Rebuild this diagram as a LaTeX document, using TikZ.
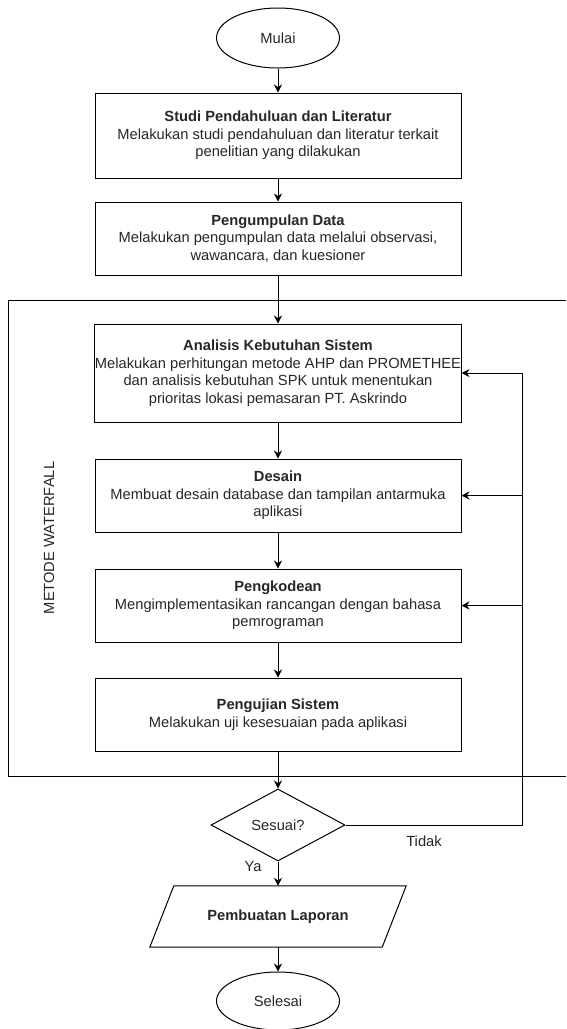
\documentclass[tikz,border=0pt]{standalone}
\usepackage{fontspec}
\setmainfont{Liberation Sans}
\usetikzlibrary{calc,shapes.geometric,arrows.meta}
\tikzset{
	teks/.style={text=black!85, font=\fontsize{14.7}{17.6}\selectfont},
	kotak/.style={teks, draw, line width=1pt, minimum width=366pt, minimum height=73pt, inner sep=0pt, align=center},
	oval/.style={teks, draw, ellipse, line width=1pt, minimum width=123pt, minimum height=60pt, inner sep=0pt},
	panah/.style={-{Stealth[length=8pt,width=8pt]}, line width=1pt},
}

\begin{document}
\begin{tikzpicture}[x=1pt, y=-1pt]
			%%%%% START %%%%%
			\useasboundingbox (0, 0) rectangle (566, 1029);
			
			\draw[line width=1pt] (566, 300) -- (8, 300) -- (8, 776) -- (566, 776);
			\node[teks, rotate=90] (metode) at (49, 538) {METODE WATERFALL};
			
			\node[oval] (mulai) at (278, 38) {Mulai};
			\node[kotak, minimum height=85pt] (studi) at (278, 135.5) {\textbf{Studi Pendahuluan dan Literatur}\\Melakukan studi pendahuluan dan literatur terkait\\penelitian yang dilakukan};
			\node[kotak] (data) at (278, 238.5) {\textbf{Pengumpulan Data}\\Melakukan pengumpulan data melalui observasi,\\wawancara, dan kuesioner};
			
			\node[kotak, minimum height=98pt] (analisis) at (278, 373) {\textbf{Analisis Kebutuhan Sistem}\\Melakukan perhitungan metode AHP dan PROMETHEE\\dan analisis kebutuhan SPK untuk menentukan\\prioritas lokasi pemasaran PT. Askrindo};
			\node[kotak] (desain) at (278, 495.5) {\textbf{Desain}\\Membuat desain database dan tampilan antarmuka\\aplikasi};
			\node[kotak] (kode) at (278, 605.5) {\textbf{Pengkodean}\\Mengimplementasikan rancangan dengan bahasa\\pemrograman};
			\node[kotak] (uji) at (278, 714.5) {\textbf{Pengujian Sistem}\\Melakukan uji kesesuaian pada aplikasi};
			
			\node[teks, draw, diamond, line width=1pt, aspect=1.86, minimum width=134pt, minimum height=72pt, inner sep=0pt] (cek) at (278, 825) {Sesuai?};
			
			\node[teks, minimum width=232pt, minimum height=61pt, inner sep=0pt] (laporan) at (278, 916.5) {\textbf{Pembuatan Laporan}};
			\draw[line width=1pt] ($(laporan.north west)+(12, 0)$) -- ($(laporan.north east)+(12, 0)$) -- ($(laporan.south east)+(-12, 0)$) -- ($(laporan.south west)+(-12, 0)$) -- cycle;
			
			\node[oval, minimum height=58pt] (selesai) at (278, 1001) {Selesai};
			
			\draw[panah] (mulai) -- (studi);
			\draw[panah] (studi) -- (data);
			\draw[panah] (data) -- (analisis);
			\draw[panah] (analisis) -- (desain);
			\draw[panah] (desain) -- (kode);
			\draw[panah] (kode) -- (uji);
			\draw[panah] (uji) -- (cek);
			\draw[panah] (cek) -- (laporan);
			\draw[panah] (laporan) -- (selesai);
			
			\coordinate (balik) at (522, 825);
			\draw[panah] (cek.east) -- (balik) |- (analisis.east);
			\draw[panah] (balik |- desain.east) -- (desain.east);
			\draw[panah] (balik |- kode.east) -- (kode.east);
			
			\node[teks] (ya) at (253, 867) {Ya};
			\node[teks] (tidak) at (424, 841) {Tidak};
			%%%%% END %%%%%
\end{tikzpicture}
\end{document}
